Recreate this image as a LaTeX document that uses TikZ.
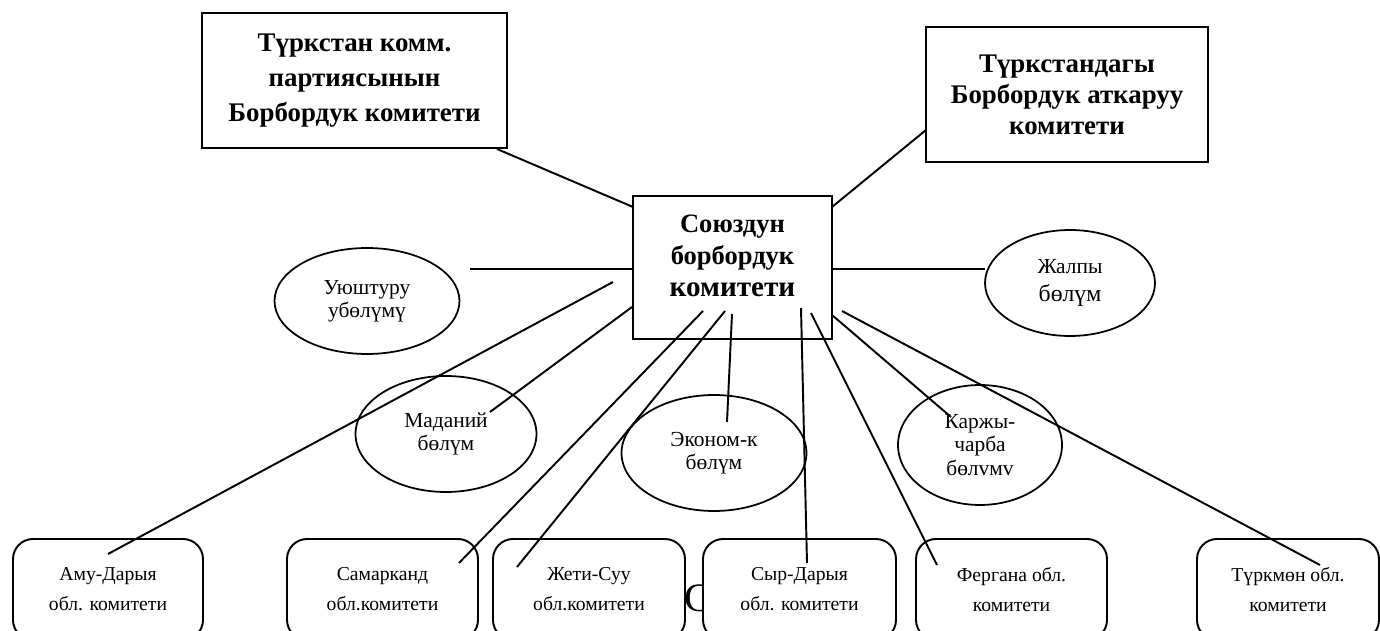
\documentclass[tikz,border=0pt]{standalone}
\usepackage{fontspec}
\setmainfont{Liberation Serif}
\usetikzlibrary{shapes.geometric}
\begin{document}
\begin{tikzpicture}[x=0.02cm,y=-0.02cm,
  bigbox/.style={draw,line width=1.1pt,fill=white,align=center,inner sep=0pt,font=\bfseries\fontsize{15.3}{19.8}\selectfont},
  oval/.style={draw,ellipse,line width=1pt,fill=white,align=center,inner sep=0pt,font=\fontsize{12.2}{13}\selectfont},
  oblbox/.style={draw,rounded corners=0.4cm,line width=1.1pt,fill=white,align=center,inner sep=0pt,minimum height=2.02cm,font=\fontsize{11.2}{17}\selectfont},
  link/.style={line width=1.1pt}]
\useasboundingbox (0,0) rectangle (1380,631);
\clip (0,0) rectangle (1380,631);

\node[bigbox,minimum width=6.1cm,minimum height=2.7cm] (tkp) at (354.5,80.5) {Түркстан комм.\\партиясынын\\Борбордук комитети};
\node[bigbox,minimum width=5.64cm,minimum height=2.7cm,font=\bfseries\fontsize{15.3}{17.6}\selectfont] (tbak) at (1067,94.5) {Түркстандагы\\Борбордук аткаруу\\комитети};
\node[bigbox,minimum width=3.98cm,minimum height=2.86cm] (soyuz) at (732.5,267.5) {};
\node[align=center,inner sep=0pt,font=\bfseries\fontsize{15.1}{18.1}\selectfont] (soyuztxt) at (732.5,256) {Союздун\\борбордук\\{\fontsize{16.6}{18.1}\selectfont комитети}};

\node[oval,minimum width=3.7cm,minimum height=2.12cm] (uyushturu) at (367,301) {Уюштуру\\убөлүмү};
\node[oval,minimum width=3.4cm,minimum height=2.12cm,font=\fontsize{12.2}{15.5}\selectfont] (zhalpy) at (1070,283) {Жалпы\\{\fontsize{13.5}{15.5}\selectfont бөлүм}};
\node[oval,minimum width=3.62cm,minimum height=2.32cm] (madaniy) at (446,434) {Маданий\\бөлүм};
\node[oval,minimum width=3.7cm,minimum height=2.32cm] (ekonom) at (714,453) {Эконом-к\\бөлүм};
\node[oval,minimum width=3.28cm,minimum height=2.4cm,font=\fontsize{12.2}{13.6}\selectfont] (karzhy) at (980,445) {Каржы-\\чарба\\бөлvмv};

\node[inner sep=0pt,font=\fontsize{23}{23}\selectfont] (strayc) at (698,598) {С};

\node[oblbox,minimum width=3.8cm] (amu) at (108,589.5) {Аму-Дарыя\\обл. комитети};
\node[oblbox,minimum width=3.82cm] (samarkand) at (382.5,589.5) {Самарканд\\обл.комитети};
\node[oblbox,minimum width=3.84cm] (zheti) at (589,589.5) {Жети-Суу\\обл.комитети};
\node[oblbox,minimum width=3.86cm] (syr) at (799.5,589.5) {Сыр-Дарыя\\обл. комитети};
\node[oblbox,minimum width=3.82cm] (fergana) at (1011.5,589.5) {Фергана обл.\\комитети};
\node[oblbox,minimum width=3.64cm] (turkmon) at (1288,589.5) {Түркмөн обл.\\комитети};

\coordinate (tkpend) at (497,149);   \coordinate (soyuzA) at (633,207);
\coordinate (tbakend) at (926,130);  \coordinate (soyuzB) at (832,207);
\coordinate (uyend) at (470,269);    \coordinate (soyuzC) at (633,269);
\coordinate (zhend) at (985,269);    \coordinate (soyuzD) at (832,269);
\coordinate (soyuzE) at (613,282);   \coordinate (amuend) at (108,554);
\coordinate (soyuzF) at (632,307);   \coordinate (madend) at (490,412);
\coordinate (soyuzG) at (703,311);   \coordinate (samend) at (459,563);
\coordinate (soyuzH) at (725,311);   \coordinate (zhetiend) at (517,567);
\coordinate (soyuzI) at (732,314);   \coordinate (ekend) at (727,422);
\coordinate (soyuzJ) at (801,308);   \coordinate (syrend) at (807,563);
\coordinate (soyuzK) at (811,313);   \coordinate (ferend) at (937,565);
\coordinate (soyuzL) at (832,315);   \coordinate (karend) at (951,417);
\coordinate (soyuzM) at (842,311);   \coordinate (turend) at (1320,565);

\draw[link] (tkpend) -- (soyuzA);
\draw[link] (tbakend) -- (soyuzB);
\draw[link] (uyend) -- (soyuzC);
\draw[link] (soyuzD) -- (zhend);
\draw[link] (soyuzE) -- (amuend);
\draw[link] (soyuzF) -- (madend);
\draw[link] (soyuzG) -- (samend);
\draw[link] (soyuzH) -- (zhetiend);
\draw[link] (soyuzI) -- (ekend);
\draw[link] (soyuzJ) -- (syrend);
\draw[link] (soyuzK) -- (ferend);
\draw[link] (soyuzL) -- (karend);
\draw[link] (soyuzM) -- (turend);
\end{tikzpicture}
\end{document}
